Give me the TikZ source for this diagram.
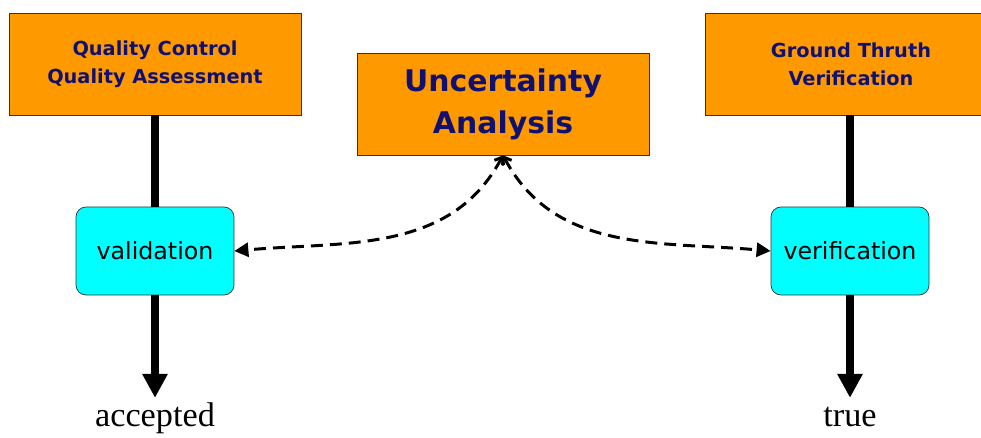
\documentclass[tikz,border=0pt]{standalone}
\usepackage{fontspec}
\setmainfont{Liberation Serif}
\newfontfamily\verd{DejaVu Sans}
\usepackage{xcolor}
\usepackage{tikz}
\usetikzlibrary{arrows.meta}
\definecolor{boxorange}{RGB}{255,153,0}
\definecolor{boxcyan}{RGB}{0,255,255}
\definecolor{navytext}{RGB}{16,16,112}

\begin{document}
\begin{tikzpicture}[
	topbox/.style={draw=black!80,fill=boxorange,
	minimum width =5.84cm ,
	minimum height =2.04cm ,text=navytext,align=center,
	font=\verd\bfseries\fontsize{11}{15.9}\selectfont},
	midbox/.style={draw=black!80,fill=boxcyan,rounded corners=0.2cm,
	minimum width =3.16cm ,
	minimum height =1.76cm ,
	font=\verd\fontsize{13.5}{16}\selectfont},
	result/.style={font=\fontsize{19.5}{22}\selectfont,text height=13pt,text depth=4pt},
	thickline/.style={line width=4.5pt},
	dashline/.style={line width=1.7pt,dash pattern=on 6.8pt off 4pt}
	]
	\clip (0,0) rectangle (19.62,8.74);
	\node[topbox] (1) at(3.10,7.46){Quality Control\\Quality Assessment};
	\node[topbox,font=\verd\bfseries\fontsize{17}{23.8}\selectfont] (2) at(10.06,6.66){Uncertainty\\Analysis};
	\node[topbox] (3) at(17.02,7.46){Ground Thruth\\Verification};
	\node[midbox] (4) at(3.10,3.72){validation};
	\node[midbox] (5) at(17.00,3.72){verification};
	\node[result] (6) at(3.10,0.36){accepted};
	\node[result] (7) at(17.00,0.36){true};
	\draw[thickline] (1) --(4);
	\draw[thickline] (3.south -| 5.north) --(5);
	\draw[thickline,-{Triangle[length=0.48cm,width=0.48cm]}] (4) --(6);
	\draw[thickline,-{Triangle[length=0.48cm,width=0.48cm]}] (5) --(7);
	\draw[dashline,{Straight Barb[length=3.5pt,width=6pt]}-{Triangle[length=8pt,width=8pt]}] (2.south) to[out=-118,in=5] (4.east);
	\draw[dashline,{Straight Barb[length=3.5pt,width=6pt]}-{Triangle[length=8pt,width=8pt]}] (2.south) to[out=-62,in=175] (5.west);
\end{tikzpicture}
\end{document}
